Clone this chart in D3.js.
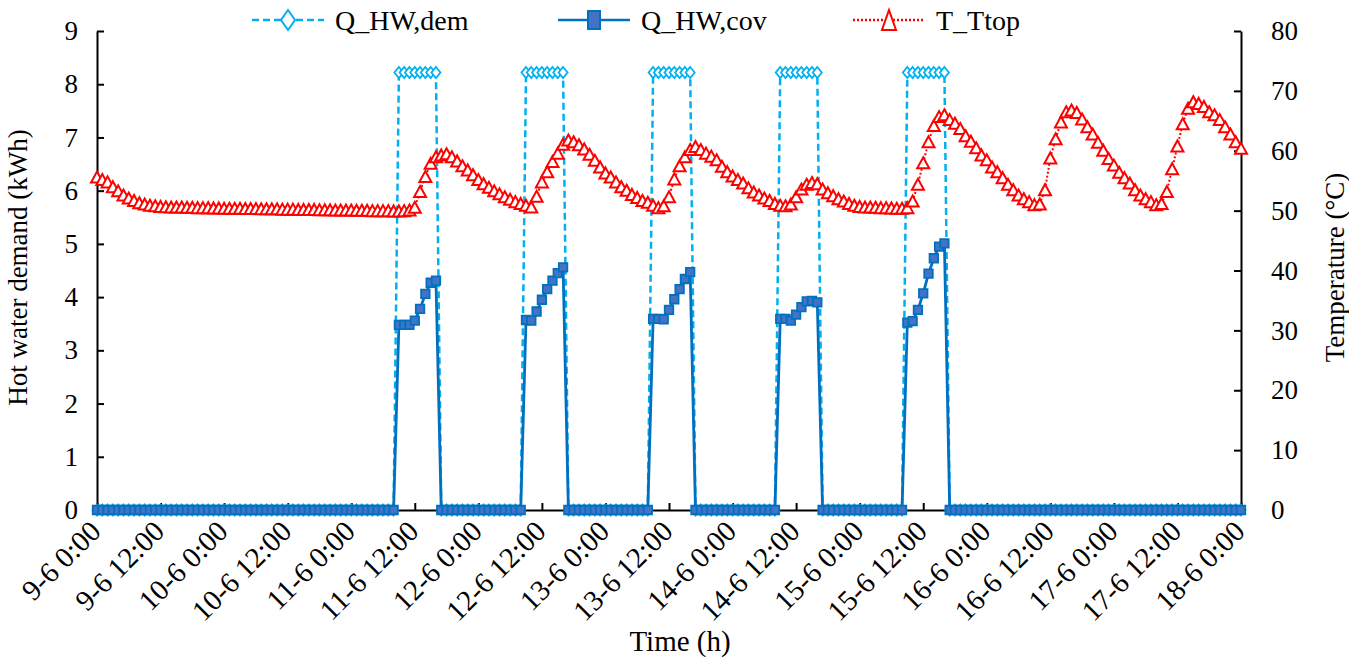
<!DOCTYPE html>
<html>
<head>
<meta charset="utf-8">
<script src="https://cdn.jsdelivr.net/npm/d3@7"></script>
<style>
  body { margin: 0; background: #fff; }
  svg { display: block; font-family: 'Liberation Serif', 'DejaVu Serif', serif; }
</style>
</head>
<body>
<svg id="chart" width="1349" height="659"></svg>
<script>
const xLabels = [
  '9-6 0:00', '9-6 12:00', '10-6 0:00', '10-6 12:00', '11-6 0:00', '11-6 12:00',
  '12-6 0:00', '12-6 12:00', '13-6 0:00', '13-6 12:00', '14-6 0:00', '14-6 12:00',
  '15-6 0:00', '15-6 12:00', '16-6 0:00', '16-6 12:00', '17-6 0:00', '17-6 12:00', '18-6 0:00'
]

// hourly values, one row per day (9-6 ... 17-6), last value is 18-6 0:00
const qDem = [
  0,0,0,0,0,0,0,0,0,0,0,0,0,0,0,0,0,0,0,0,0,0,0,0,
  0,0,0,0,0,0,0,0,0,0,0,0,0,0,0,0,0,0,0,0,0,0,0,0,
  0,0,0,0,0,0,0,0,0,8.22,8.22,8.22,8.22,8.22,8.22,8.22,8.22,0,0,0,0,0,0,0,
  0,0,0,0,0,0,0,0,0,8.22,8.22,8.22,8.22,8.22,8.22,8.22,8.22,0,0,0,0,0,0,0,
  0,0,0,0,0,0,0,0,0,8.22,8.22,8.22,8.22,8.22,8.22,8.22,8.22,0,0,0,0,0,0,0,
  0,0,0,0,0,0,0,0,0,8.22,8.22,8.22,8.22,8.22,8.22,8.22,8.22,0,0,0,0,0,0,0,
  0,0,0,0,0,0,0,0,0,8.22,8.22,8.22,8.22,8.22,8.22,8.22,8.22,0,0,0,0,0,0,0,
  0,0,0,0,0,0,0,0,0,0,0,0,0,0,0,0,0,0,0,0,0,0,0,0,
  0,0,0,0,0,0,0,0,0,0,0,0,0,0,0,0,0,0,0,0,0,0,0,0,
  0
]

const qCov = [
  0,0,0,0,0,0,0,0,0,0,0,0,0,0,0,0,0,0,0,0,0,0,0,0,
  0,0,0,0,0,0,0,0,0,0,0,0,0,0,0,0,0,0,0,0,0,0,0,0,
  0,0,0,0,0,0,0,0,0,3.48,3.48,3.48,3.56,3.78,4.06,4.27,4.31,0,0,0,0,0,0,0,
  0,0,0,0,0,0,0,0,0,3.57,3.56,3.73,3.95,4.15,4.31,4.45,4.56,0,0,0,0,0,0,0,
  0,0,0,0,0,0,0,0,0,3.59,3.59,3.58,3.76,3.96,4.15,4.34,4.47,0,0,0,0,0,0,0,
  0,0,0,0,0,0,0,0,0,3.59,3.59,3.56,3.67,3.81,3.92,3.93,3.90,0,0,0,0,0,0,0,
  0,0,0,0,0,0,0,0,0,3.52,3.55,3.76,4.07,4.44,4.73,4.95,5.01,0,0,0,0,0,0,0,
  0,0,0,0,0,0,0,0,0,0,0,0,0,0,0,0,0,0,0,0,0,0,0,0,
  0,0,0,0,0,0,0,0,0,0,0,0,0,0,0,0,0,0,0,0,0,0,0,0,
  0
]

const tTop = [
  55.6,55.2,54.8,54.0,53.3,52.6,52.1,51.7,51.3,51.1,50.9,50.8,50.7,50.65,50.6,50.6,50.6,50.55,50.55,50.5,50.5,50.5,50.45,50.45,
  50.4,50.4,50.4,50.4,50.35,50.35,50.35,50.3,50.3,50.3,50.3,50.25,50.25,50.25,50.2,50.2,50.2,50.2,50.15,50.15,50.15,50.1,50.1,50.1,
  50.1,50.05,50.05,50.05,50.0,50.0,50.0,50.0,49.95,49.95,50.0,50.1,50.55,53.2,55.7,57.9,59.0,59.3,59.5,59.0,58.3,57.5,56.8,56.0,
  55.2,54.5,53.9,53.3,52.8,52.3,51.9,51.5,51.2,50.9,50.6,52.4,54.8,56.5,58.2,59.6,61.1,61.8,61.5,61.0,60.3,59.4,58.4,57.3,
  56.3,55.6,54.8,54.0,53.4,52.7,52.2,51.7,51.4,50.9,50.5,50.8,52.3,55.3,57.5,59.0,60.2,60.7,60.2,59.6,59.1,58.5,57.4,56.5,
  55.8,55.2,54.6,53.8,53.1,52.6,52.1,51.7,51.2,50.9,50.8,51.1,52.3,53.6,54.4,54.7,54.5,53.6,53.0,52.5,52.0,51.6,51.2,50.9,
  50.7,50.6,50.6,50.55,50.5,50.5,50.45,50.4,50.4,50.5,51.6,54.4,58.0,61.5,64.2,65.7,66.0,65.2,64.6,63.7,62.5,61.6,60.5,59.3,
  58.5,57.3,56.5,55.5,54.4,53.5,52.6,52.0,51.5,51.0,51.1,53.5,58.8,62.0,64.8,66.5,66.8,66.4,65.3,64.0,62.8,61.4,60.1,58.7,
  57.6,56.4,55.5,54.6,53.5,52.6,52.0,51.5,51.0,51.2,53.2,57.0,60.8,64.5,67.1,68.2,67.9,67.4,66.5,66.0,65.2,64.0,62.8,61.5,
  60.4
]

const leftTicks = [0, 1, 2, 3, 4, 5, 6, 7, 8, 9]
const rightTicks = [0, 10, 20, 30, 40, 50, 60, 70, 80]

const hours = tTop.map((d, i) => i)

const margin = { top: 31, right: 108, bottom: 149, left: 97 },
  width = 1349 - margin.left - margin.right,
  height = 659 - margin.top - margin.bottom

const fontSize = 27
const cDem = '#00B0F0', cCov = '#0070C0', cCovFill = '#4472C4', cT = '#FF0000'

const x = d3.scaleLinear().domain([0, hours.length - 1]).range([0, width])
const yL = d3.scaleLinear().domain([0, 9]).range([height, 0])
const yR = d3.scaleLinear().domain([0, 80]).range([height, 0])

const svg = d3.select('#chart')
const g = svg.append('g').attr('transform', `translate(${margin.left},${margin.top})`)

// axes
const xAxis = d3.axisBottom(x)
  .tickValues(xLabels.map((d, i) => i * 12))
  .tickFormat((d, i) => xLabels[i])
  .tickSizeInner(-7).tickSizeOuter(0)

const gx = g.append('g').attr('transform', `translate(0,${height})`).call(xAxis)

const gl = g.append('g').call(d3.axisLeft(yL).tickValues(leftTicks).tickSizeInner(-7).tickSizeOuter(0).tickPadding(19))
const gr = g.append('g').attr('transform', `translate(${width},0)`)
  .call(d3.axisRight(yR).tickValues(rightTicks).tickSizeInner(-7).tickSizeOuter(0).tickPadding(30))

;[gx, gl, gr].forEach((a) => {
  a.selectAll('.domain').attr('stroke', '#000').attr('stroke-width', 2)
  a.selectAll('.tick line').attr('stroke', '#000').attr('stroke-width', 2)
  a.selectAll('text').attr('font-size', fontSize).attr('fill', '#000')
    .attr('font-family', "'Liberation Serif', serif")
})

gx.selectAll('text')
  .attr('y', 0).attr('dy', null).attr('x', 0)
  .attr('font-size', 29)
  .attr('text-anchor', 'end')
  .attr('transform', 'translate(5,23) rotate(-45)')

// axis titles
g.append('text')
  .attr('transform', `translate(${-70},${height / 2 - 3}) rotate(-90)`)
  .attr('text-anchor', 'middle').attr('font-size', fontSize)
  .text('Hot water demand (kWh)')

g.append('text')
  .attr('transform', `translate(${width + 103},${height / 2 - 3}) rotate(-90)`)
  .attr('text-anchor', 'middle').attr('font-size', fontSize)
  .text('Temperature (°C)')

g.append('text')
  .attr('x', width / 2 + 11).attr('y', height + 141)
  .attr('text-anchor', 'middle').attr('font-size', 29)
  .text('Time (h)')

// marker shapes
const diamond = (w, h) => `M0,${-h / 2}L${w / 2},0L0,${h / 2}L${-w / 2},0Z`
const square = (w, h) => `M${-w / 2},${-h / 2}h${w}v${h}h${-w}Z`
const triangle = (w, h) => `M0,${-h / 2}L${w / 2},${h / 2}L${-w / 2},${h / 2}Z`

// Q_HW,dem
g.append('path')
  .datum(qDem)
  .attr('fill', 'none').attr('stroke', cDem).attr('stroke-width', 2.5)
  .attr('stroke-dasharray', '7,4')
  .attr('d', d3.line().x((d, i) => x(i)).y((d) => yL(d)))

g.append('g').selectAll('path')
  .data(qDem).enter().append('path')
  .attr('transform', (d, i) => `translate(${x(i)},${yL(d)})`)
  .attr('d', diamond(9, 11))
  .attr('fill', '#fff').attr('stroke', cDem).attr('stroke-width', 1.8)

// Q_HW,cov
g.append('path')
  .datum(qCov)
  .attr('fill', 'none').attr('stroke', cCov).attr('stroke-width', 2.8)
  .attr('d', d3.line().x((d, i) => x(i)).y((d) => yL(d)))

g.append('g').selectAll('path')
  .data(qCov).enter().append('path')
  .attr('transform', (d, i) => `translate(${x(i)},${yL(d)})`)
  .attr('d', square(8.5, 8.5))
  .attr('fill', cCovFill).attr('stroke', cCov).attr('stroke-width', 1.8)

// T_Ttop
g.append('path')
  .datum(tTop)
  .attr('fill', 'none').attr('stroke', cT).attr('stroke-width', 2)
  .attr('stroke-dasharray', '2,2')
  .attr('d', d3.line().x((d, i) => x(i)).y((d) => yR(d)))

g.append('g').selectAll('path')
  .data(tTop).enter().append('path')
  .attr('transform', (d, i) => `translate(${x(i)},${yR(d)})`)
  .attr('d', triangle(12, 11))
  .attr('fill', '#fff').attr('stroke', cT).attr('stroke-width', 2)

// legend
const legendItems = [
  { name: 'Q_HW,dem', x: 252, color: cDem, dash: '7,4', shape: diamond(14, 20), fill: '#fff' },
  { name: 'Q_HW,cov', x: 558, color: cCov, dash: null, shape: square(12, 18), fill: cCovFill },
  { name: 'T_Ttop', x: 853, color: cT, dash: '2,2', shape: triangle(14, 20), fill: '#fff' }
]

const legend = svg.append('g').attr('transform', 'translate(0,20)')
const li = legend.selectAll('g').data(legendItems).enter().append('g')
  .attr('transform', (d) => `translate(${d.x},0)`)

li.append('line')
  .attr('x1', 0).attr('x2', 72).attr('y1', 0).attr('y2', 0)
  .attr('stroke', (d) => d.color).attr('stroke-width', 2.5)
  .attr('stroke-dasharray', (d) => d.dash)

li.append('path')
  .attr('transform', 'translate(36,0)')
  .attr('d', (d) => d.shape)
  .attr('fill', (d) => d.fill).attr('stroke', (d) => d.color).attr('stroke-width', 2)

li.append('text')
  .attr('x', 83).attr('y', 0).attr('dy', '0.35em')
  .attr('font-size', 28)
  .text((d) => d.name)
</script>
</body>
</html>
